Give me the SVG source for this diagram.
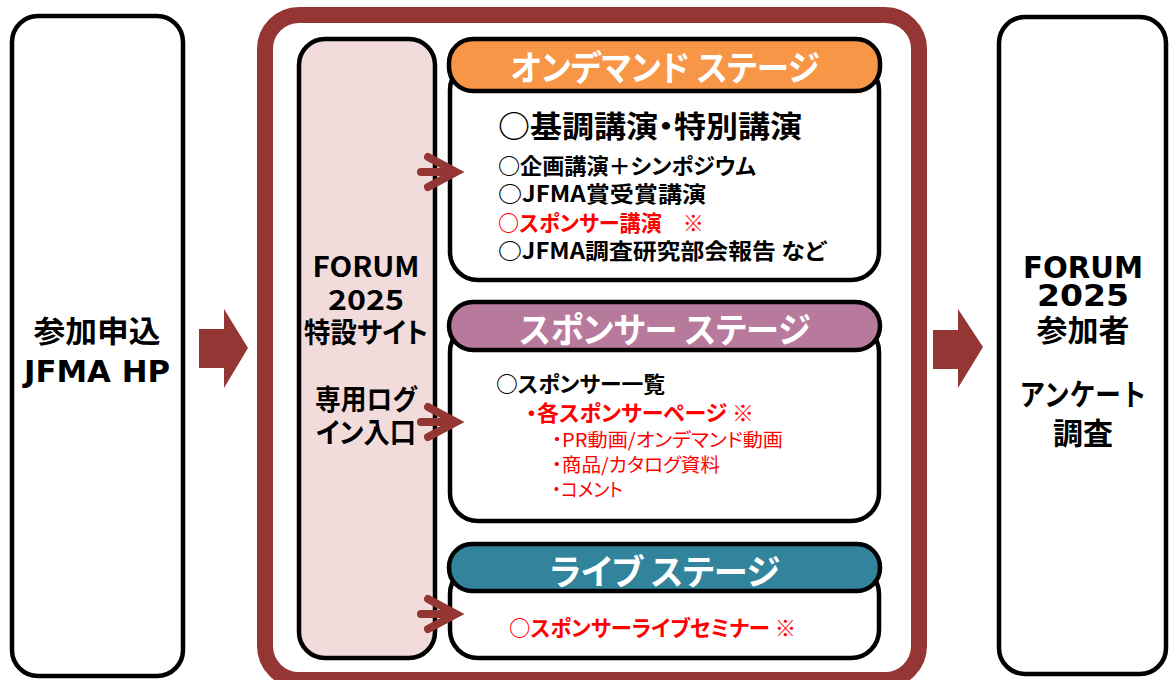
<svg xmlns="http://www.w3.org/2000/svg" width="1171" height="680" viewBox="0 0 1171 680">
<style>
.box{fill:#fff;stroke:#000;stroke-width:4.5}
.site{fill:#F2DCDB;stroke:#000;stroke-width:4.5}
.hdr{stroke:#000;stroke-width:4.5}
.outer{fill:none;stroke:#943634;stroke-width:16}
.bigarrow{fill:#943634}
.arr{fill:none;stroke:#943634;stroke-width:8;stroke-linecap:round;stroke-linejoin:miter}
.jp{font-family:'Noto Sans CJK JP',sans-serif;font-weight:bold;font-feature-settings:"palt"}
.side{font-family:'DejaVu Sans','Noto Sans CJK JP',sans-serif;font-weight:bold;font-size:30px;fill:#000}
.ht{font-family:'Noto Sans CJK JP',sans-serif;font-weight:bold;font-size:35px;fill:#fff;text-anchor:middle;font-feature-settings:"palt"}
.b{font-family:'Noto Sans CJK JP',sans-serif;font-weight:bold;font-size:22px;fill:#000;font-feature-settings:"palt"}
.r{fill:#FF0000}
.s{font-family:'Noto Sans CJK JP',sans-serif;font-weight:normal;font-size:19px;fill:#FF0000;font-feature-settings:"palt"}
.col{font-family:'Noto Sans CJK JP',sans-serif;font-weight:bold;font-size:28px;fill:#000;text-anchor:middle;font-feature-settings:"palt"}
</style>
<g id="node-entry">
<rect class="box" x="12" y="16" width="171" height="660" rx="26"/>
<text class="side" x="97" y="342" text-anchor="middle" textLength="127" lengthAdjust="spacingAndGlyphs">参加申込</text>
<text class="side" x="97" y="382" text-anchor="middle" textLength="146" lengthAdjust="spacingAndGlyphs">JFMA HP</text>
</g>
<g id="node-forum">
<rect class="outer" x="265" y="15" width="654" height="665" rx="34"/>
</g>
<g id="node-site">
<rect class="site" x="299" y="39" width="136" height="619" rx="26"/>
<text class="col" x="366" y="277" textLength="107" lengthAdjust="spacingAndGlyphs">FORUM</text>
<text class="col" x="366" y="310" textLength="76" lengthAdjust="spacingAndGlyphs">2025</text>
<text class="col" x="366" y="343" textLength="124" lengthAdjust="spacingAndGlyphs">特設サイト</text>
<text class="col" x="366" y="410" textLength="102" lengthAdjust="spacingAndGlyphs">専用ログ</text>
<text class="col" x="366" y="443" textLength="100" lengthAdjust="spacingAndGlyphs">イン入口</text>
</g>
<g id="node-stage-ondemand">
<rect class="box" x="450" y="62" width="429" height="218" rx="28"/>
<rect class="hdr" x="449" y="39" width="431" height="52" rx="24" fill="#F79646"/>
<text class="ht" x="665" y="81" textLength="309" lengthAdjust="spacingAndGlyphs">オンデマンド ステージ</text>
<text class="jp" x="498" y="137" font-size="30" fill="#000" textLength="304" lengthAdjust="spacingAndGlyphs">○基調講演・特別講演</text>
<text class="b" x="498" y="174" textLength="258" lengthAdjust="spacingAndGlyphs">○企画講演＋シンポジウム</text>
<text class="b" x="498" y="202" textLength="208" lengthAdjust="spacingAndGlyphs">○JFMA賞受賞講演</text>
<text class="b r" x="498" y="231" textLength="206" lengthAdjust="spacingAndGlyphs">○スポンサー講演　※</text>
<text class="b" x="498" y="259" textLength="328" lengthAdjust="spacingAndGlyphs">○JFMA調査研究部会報告 など</text>
</g>
<g id="node-stage-sponsor">
<rect class="box" x="450" y="324" width="429" height="197" rx="28"/>
<rect class="hdr" x="449" y="302" width="431" height="48" rx="24" fill="#B7799C"/>
<text class="ht" x="665" y="343" textLength="291" lengthAdjust="spacingAndGlyphs">スポンサー ステージ</text>
<text class="b" x="496" y="392" textLength="169" lengthAdjust="spacingAndGlyphs">○スポンサー一覧</text>
<text class="b r" x="526" y="421" textLength="228" lengthAdjust="spacingAndGlyphs">・各スポンサーページ ※</text>
<text class="s" x="552" y="447" textLength="231" lengthAdjust="spacingAndGlyphs">・PR動画/オンデマンド動画</text>
<text class="s" x="552" y="472" textLength="168" lengthAdjust="spacingAndGlyphs">・商品/カタログ資料</text>
<text class="s" x="552" y="497" textLength="71" lengthAdjust="spacingAndGlyphs">・コメント</text>
</g>
<g id="node-stage-live">
<rect class="box" x="450" y="566" width="429" height="92" rx="28"/>
<rect class="hdr" x="449" y="544" width="431" height="47" rx="23" fill="#31849B"/>
<text class="ht" x="665" y="585" textLength="230" lengthAdjust="spacingAndGlyphs">ライブ ステージ</text>
<text class="b r" x="509" y="636" textLength="287" lengthAdjust="spacingAndGlyphs">○スポンサーライブセミナー ※</text>
</g>
<g id="node-participants">
<rect class="box" x="999" y="17" width="167" height="657" rx="26"/>
<text class="side" x="1083" y="278" text-anchor="middle" textLength="120" lengthAdjust="spacingAndGlyphs">FORUM</text>
<text class="side" x="1083" y="306" text-anchor="middle" textLength="92" lengthAdjust="spacingAndGlyphs">2025</text>
<text class="side" x="1083" y="341" text-anchor="middle" textLength="93" lengthAdjust="spacingAndGlyphs">参加者</text>
<text class="side" x="1083" y="405" text-anchor="middle" font-size="27" textLength="127" lengthAdjust="spacingAndGlyphs">アンケート</text>
<text class="side" x="1083" y="444" text-anchor="middle" textLength="60" lengthAdjust="spacingAndGlyphs">調査</text>
</g>
<g id="connectors">
<polygon class="bigarrow" points="199,329 224,329 224,309 248,348 224,388 224,368 199,368"/>
<polygon class="bigarrow" points="933,330 958,330 958,309 983,347 958,388 958,369 933,369"/>
<line class="arr" x1="421" y1="172" x2="452" y2="172"/>
<polyline class="arr" points="428,157 456,172 428,187"/>
<line class="arr" x1="421" y1="422" x2="452" y2="422"/>
<polyline class="arr" points="428,407 456,422 428,437"/>
<line class="arr" x1="421" y1="614" x2="452" y2="614"/>
<polyline class="arr" points="428,599 456,614 428,629"/>
</g>
</svg>
